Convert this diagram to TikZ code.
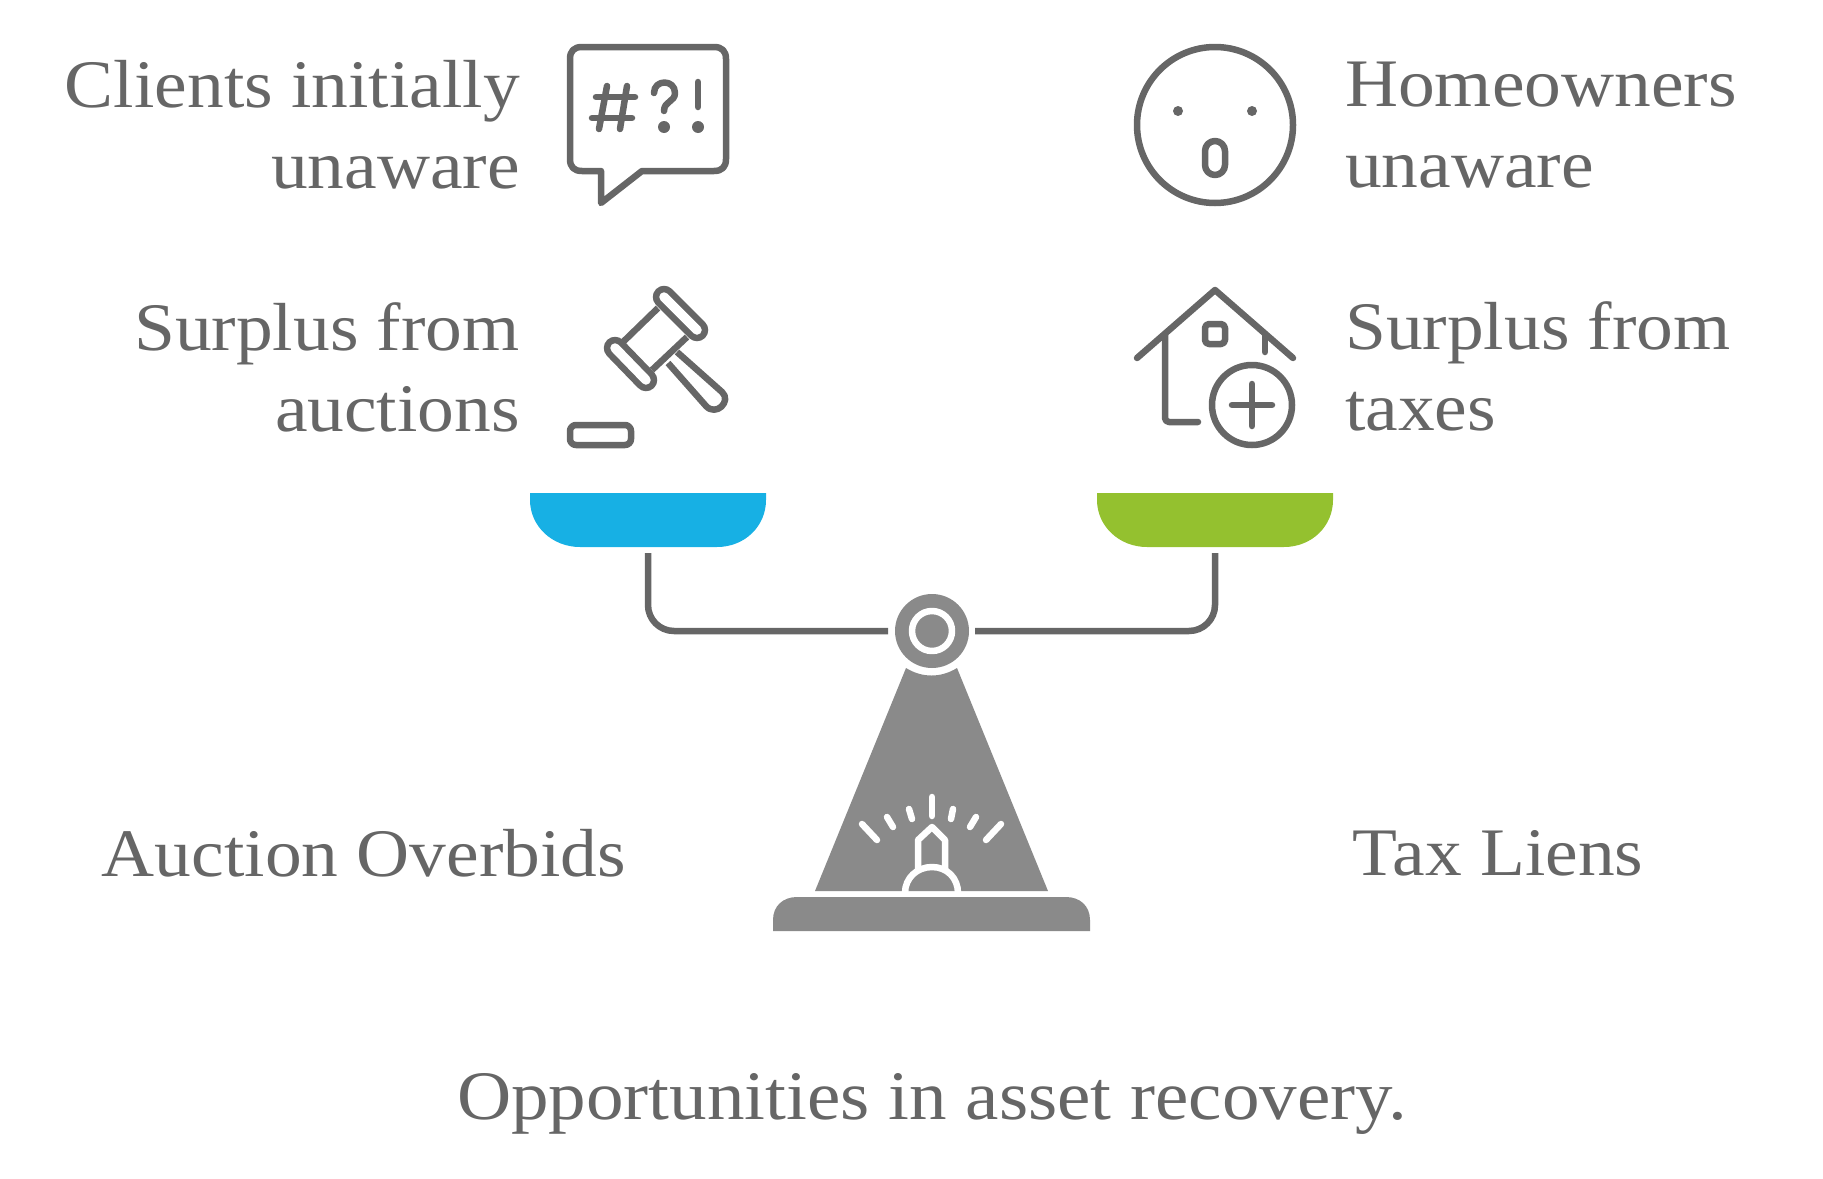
\documentclass[tikz,border=0pt]{standalone}
\usepackage{fontspec}
\setmainfont[FakeStretch=1.08]{Liberation Serif}
\usepackage{tikz}
\usetikzlibrary{positioning}

\definecolor{txtgray}{HTML}{666666}
\definecolor{icongray}{HTML}{666666}
\definecolor{basegray}{HTML}{8A8A8A}
\definecolor{panblue}{HTML}{17B0E4}
\definecolor{pangreen}{HTML}{94C12F}

\begin{document}
\begin{tikzpicture}[x=1pt,y=-1pt,line join=round,
	label/.style={text=txtgray,inner sep=0pt,font=\fontsize{68}{81}\selectfont},
	icon/.style={draw=icongray,line width=6.5pt,line cap=round},
	capsule/.style={icon,double=white,double distance=9.5pt},
	beam/.style={draw=icongray,line width=6.5pt,rounded corners=26pt},
	spark/.style={draw=white,line width=6.5pt,line cap=round},
	]
	\useasboundingbox (0,0) rectangle (1823,1178);

	% create the nodes
	\node[label,align=right,anchor=east] (clients) at (520,125) {Clients initially\\unaware};
	\node[label,align=right,below left=113pt and 0pt of clients.south east] (auctions) {Surplus from\\auctions};
	\node[label,align=left,anchor=west] (owners) at (1345,125) {Homeowners\\unaware};
	\node[label,align=left,below right=113pt and 0pt of owners.south west] (taxes) {Surplus from\\taxes};
	\node[label] (overbids) at (364,853) {Auction Overbids};
	\node[label] (liens) at (1498,853) {Tax Liens};
	\node[label,font=\fontsize{69.5}{81}\selectfont] (title) at (932,1104) {Opportunities in asset recovery.};

	% speech bubble
	\draw[icon] (582,47) -- (714,47) .. controls (722,47) and (726,51) .. (726,59) -- (726,159) .. controls (726,167) and (722,171) .. (714,171) -- (642,171) -- (601,203) -- (601,171) -- (582,171) .. controls (574,171) and (570,167) .. (570,159) -- (570,59) .. controls (570,51) and (574,47) .. (582,47) -- cycle;
	\draw[icon] (596,97) -- (635,97);
	\draw[icon] (592,118) -- (632,118);
	\draw[icon] (607,86) -- (599,129);
	\draw[icon] (627,86) -- (620,129);
	\draw[icon] (654,93) .. controls (654,79) and (675,79) .. (675,93) .. controls (675,102) and (664,101) .. (664,111);
	\draw[icon] (698,82) -- (698,107);
	\fill[icongray] (664,127) circle (6);
	\fill[icongray] (698,127) circle (6);

	% gavel
	\draw[capsule] (664,297) -- (697,330);
	\draw[capsule] (615,348) -- (646,380);
	\draw[icon,line cap=butt] (658,308) -- (623,342);
	\draw[icon,line cap=butt] (687,337) -- (652,370);
	\draw[icon,line cap=butt] (677,352) -- (722,392) .. controls (732,401) and (716,417) .. (706,406) -- (668,363);
	\draw[icon,rounded corners=6pt] (570,425) rectangle (631,445);

	% face
	\draw[icon] (1215,125) circle (78);
	\fill[icongray] (1178,111) circle (5);
	\fill[icongray] (1252,111) circle (5);
	\draw[icon,rounded corners=10pt] (1205,141) rectangle (1225,175);

	% house
	\draw[icon] (1137,358) -- (1215,290) -- (1293,358);
	\draw[icon,rounded corners=4pt] (1165,335) -- (1165,422) -- (1198,422);
	\draw[icon] (1265,335) -- (1265,352);
	\draw[icon,rounded corners=4pt] (1205,324) rectangle (1225,344);
	\draw[icon] (1252,405) circle (40);
	\draw[icon] (1232,405) -- (1272,405);
	\draw[icon] (1252,384) -- (1252,426);

	% pans
	\fill[panblue] (530,493) -- (766,493) -- (766,500) .. controls (766,526) and (745,547) .. (717,547) -- (580,547) .. controls (552,547) and (530,526) .. (530,500) -- cycle;
	\fill[pangreen] (1097,493) -- (1333,493) -- (1333,500) .. controls (1333,526) and (1312,547) .. (1284,547) -- (1147,547) .. controls (1119,547) and (1097,526) .. (1097,500) -- cycle;

	% connect the pans to the pivot
	\coordinate (panL) at (648,553);
	\coordinate (panR) at (1215,553);
	\coordinate (beamL) at (888,631);
	\coordinate (beamR) at (975,631);
	\draw[beam] (panL) |- (beamL);
	\draw[beam] (panR) |- (beamR);

	% stand
	\fill[basegray] (932,631) circle (37);
	\draw[white,line width=6.5pt] (932,631) circle (20);
	\fill[basegray] (906,668) .. controls (922,678) and (941,678) .. (957,668) -- (1048,891) -- (815,891) -- cycle;
	\fill[basegray] (773,931) -- (773,920) .. controls (773,906) and (783,897) .. (797,897) -- (1066,897) .. controls (1080,897) and (1090,906) .. (1090,920) -- (1090,931) -- cycle;

	% bell
	\draw[spark] (932,797) -- (932,816);
	\draw[spark] (909,809) -- (912,819);
	\draw[spark] (953,809) -- (951,819);
	\draw[spark] (887,817) -- (893,827);
	\draw[spark] (976,817) -- (970,827);
	\draw[spark] (862,824) -- (877,840);
	\draw[spark] (1001,824) -- (986,840);
	\draw[spark,line cap=butt] (918,870) -- (918,840) -- (932,827) -- (945,840) -- (945,870);
	\draw[spark,line cap=butt] (905,893) .. controls (905,878) and (917,867) .. (932,867) .. controls (947,867) and (958,878) .. (958,893);
\end{tikzpicture}
\end{document}
